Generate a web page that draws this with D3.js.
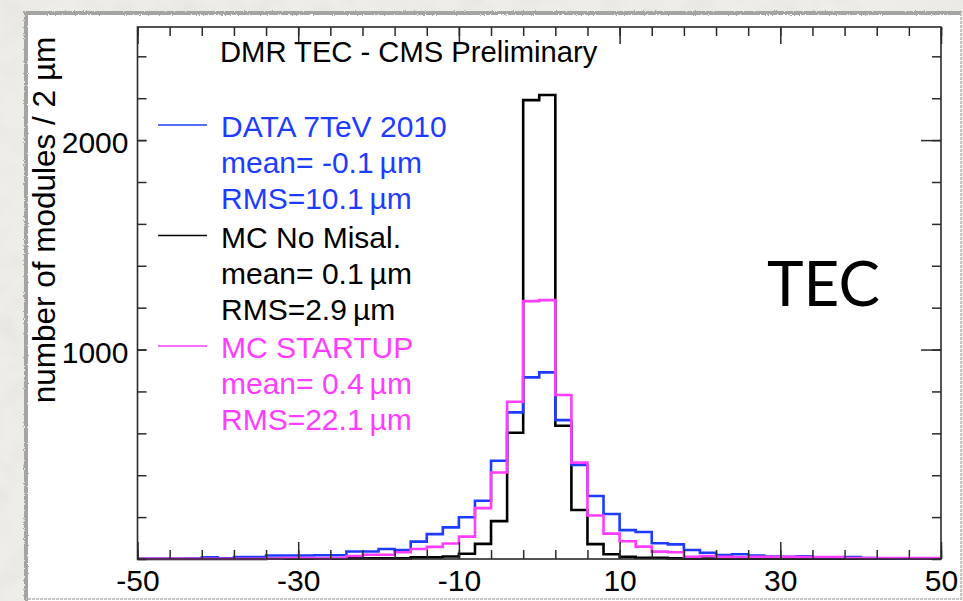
<!DOCTYPE html>
<html>
<head>
<meta charset="utf-8">
<script src="https://cdn.jsdelivr.net/npm/d3@7"></script>
<style>
  body { margin: 0; background: #efede8; }
  text { font-family: "Liberation Sans", Arial, Helvetica, sans-serif; }
</style>
</head>
<body>
<svg id="chart" width="963" height="601"></svg>
<script>
// bins of 2 um from -50 to 50 (lower edges)
var binLow = d3.range(-50, 50, 2);

var dataCounts = [1, 1, 1, 2, 8, 3, 9, 9, 17, 17, 17, 18, 18, 36, 36, 48, 43, 83, 119, 151,
                  199, 278, 469, 700, 867, 891, 663, 449, 301, 215, 138, 129, 75, 70, 43, 30, 19, 23, 17, 12,
                  10, 13, 7, 7, 9, 4, 3, 2, 2, 2];
var noMisalCounts = [0, 0, 0, 0, 0, 0, 0, 0, 1, 1, 1, 1, 1, 3, 3, 3, 3, 8, 8, 12,
                     25, 72, 181, 603, 2191, 2215, 636, 234, 71, 23, 11, 6, 6, 3, 2, 2, 1, 1, 1, 1,
                     1, 1, 1, 1, 1, 1, 1, 1, 1, 1];
var startupCounts = [1, 1, 1, 1, 1, 1, 1, 1, 2, 5, 5, 3, 5, 14, 20, 20, 32, 48, 58, 74,
                     107, 243, 413, 751, 1231, 1236, 783, 460, 208, 121, 85, 59, 35, 32, 11, 14, 10, 8, 10, 10,
                     10, 9, 9, 9, 5, 5, 5, 5, 4, 4];

var xMajor = [-50, -30, -10, 10, 30, 50];
var xMinor = d3.range(-50, 51, 4);
var yMajor = [1000, 2000];
var yMinor = d3.range(0, 2540, 200);

var seriesNames = ["DATA 7TeV 2010", "MC No Misal.", "MC STARTUP"];
var seriesMeans = ["-0.1", "0.1", "0.4"];
var seriesRms = ["10.1", "2.9", "22.1"];
var seriesColors = ["#1e3cff", "#000000", "#ff3cff"];

var svg = d3.select("#chart");

// paper background
var defs = svg.append("defs");
var paper = defs.append("filter").attr("id", "paper").attr("x", 0).attr("y", 0).attr("width", 1).attr("height", 1);
paper.append("feTurbulence").attr("type", "fractalNoise").attr("baseFrequency", 0.035).attr("numOctaves", 3).attr("seed", 4);
paper.append("feColorMatrix").attr("values", "0 0 0 0 0.55  0 0 0 0 0.53  0 0 0 0 0.5  0 0 0 -0.9 0.55");
var rough = defs.append("filter").attr("id", "rough");
rough.append("feTurbulence").attr("type", "fractalNoise").attr("baseFrequency", 0.9).attr("numOctaves", 1).attr("result", "n");
rough.append("feDisplacementMap").attr("in", "SourceGraphic").attr("in2", "n").attr("scale", 3);

svg.append("rect").attr("width", 963).attr("height", 601).attr("fill", "#efede8");
svg.append("rect").attr("width", 963).attr("height", 601).attr("filter", "url(#paper)").attr("opacity", 0.35);

// white page with rough grey edge
svg.append("rect").attr("x", 26).attr("y", 13).attr("width", 936).attr("height", 588)
    .attr("fill", "#ffffff");
svg.append("path")
    .attr("d", "M26,601 L26,13 L962,13")
    .attr("fill", "none").attr("stroke", "#a4a4a4").attr("stroke-width", 4)
    .attr("filter", "url(#rough)");
svg.append("path")
    .attr("d", "M961,13 L961,599 L26,599")
    .attr("fill", "none").attr("stroke", "#c4c4c4").attr("stroke-width", 2)
    .attr("stroke-dasharray", "3,1");

var x = d3.scaleLinear().domain([-50, 50]).range([137.5, 941]);
var y = d3.scaleLinear().domain([0, 2540]).range([559, 27]);

// histograms: black, blue, magenta on top
var line = d3.line()
    .x(function (d) { return x(d[0]); })
    .y(function (d) { return y(d[1]); })
    .curve(d3.curveStepAfter);

function steps(counts) {
    var pts = binLow.map(function (b, i) { return [b, counts[i]]; });
    pts.push([50, counts[counts.length - 1]]);
    return pts;
}

var order = [[noMisalCounts, seriesColors[1]], [dataCounts, seriesColors[0]], [startupCounts, seriesColors[2]]];
order.forEach(function (s) {
    svg.append("path")
        .attr("d", line(steps(s[0])))
        .attr("fill", "none")
        .attr("stroke", s[1])
        .attr("stroke-width", 2.6);
});

// axes, ticks inside on all four sides
var axisColor = "#2a2a2a";
function styleAxis(g) {
    g.select(".domain").remove();
    g.selectAll("line").attr("stroke", axisColor).attr("stroke-width", 1.5);
}
function plain(d) { return String(d); }

svg.append("g").attr("transform", "translate(0,559)")
    .call(d3.axisBottom(x).tickValues(xMinor).tickSize(-9).tickFormat(""))
    .call(styleAxis);
svg.append("g").attr("transform", "translate(0,559)")
    .call(d3.axisBottom(x).tickValues(xMajor).tickSize(-17).tickPadding(11).tickFormat(plain))
    .call(styleAxis)
    .call(function (g) {
        g.selectAll("text").attr("font-size", 30).attr("fill", "#000")
            .style("font-family", "'Liberation Sans', Arial, sans-serif");
    });
svg.append("g").attr("transform", "translate(0,27)")
    .call(d3.axisTop(x).tickValues(xMinor).tickSize(-9).tickFormat(""))
    .call(styleAxis);
svg.append("g").attr("transform", "translate(0,27)")
    .call(d3.axisTop(x).tickValues(xMajor).tickSize(-17).tickFormat(""))
    .call(styleAxis);

svg.append("g").attr("transform", "translate(137.5,0)")
    .call(d3.axisLeft(y).tickValues(yMinor).tickSize(-9).tickFormat(""))
    .call(styleAxis);
svg.append("g").attr("transform", "translate(137.5,0)")
    .call(d3.axisLeft(y).tickValues(yMajor).tickSize(-9).tickPadding(9).tickFormat(plain))
    .call(styleAxis)
    .call(function (g) {
        g.selectAll("text").attr("font-size", 30).attr("fill", "#000").attr("dy", "0.42em")
            .style("font-family", "'Liberation Sans', Arial, sans-serif");
    });
svg.append("g").attr("transform", "translate(941,0)")
    .call(d3.axisRight(y).tickValues(yMinor).tickSize(-9).tickFormat(""))
    .call(styleAxis);
svg.append("g").attr("transform", "translate(941,0)")
    .call(d3.axisRight(y).tickValues(yMajor).tickSize(-20).tickFormat(""))
    .call(styleAxis);

// frame
svg.append("rect")
    .attr("x", x(-50)).attr("y", y(2540))
    .attr("width", x(50) - x(-50)).attr("height", y(0) - y(2540))
    .attr("fill", "none").attr("stroke", axisColor).attr("stroke-width", 1.6);

// axis title
svg.append("text")
    .attr("transform", "translate(55,220) rotate(-90)")
    .attr("text-anchor", "middle")
    .attr("font-size", 31.5)
    .text("number of modules / 2 \u00b5m");

// title
svg.append("text")
    .attr("x", 220).attr("y", 62)
    .attr("font-size", 29.2)
    .text("DMR TEC - CMS Preliminary");

// legend
var legendTop = 137, groupStep = 110.5, rowStep = 36;
seriesNames.forEach(function (name, i) {
    var base = legendTop + i * groupStep;
    var c = seriesColors[i];
    svg.append("line")
        .attr("x1", 158).attr("x2", 207)
        .attr("y1", base - 12).attr("y2", base - 12)
        .attr("stroke", c).attr("stroke-width", 1.7);
    var rows = [name, "mean= " + seriesMeans[i] + "\u2009\u00b5m", "RMS=" + seriesRms[i] + "\u2009\u00b5m"];
    rows.forEach(function (r, j) {
        svg.append("text")
            .attr("x", 221).attr("y", base + j * rowStep)
            .attr("font-size", 30)
            .attr("fill", c)
            .text(r);
    });
});

// big detector label
svg.append("text")
    .attr("x", 767).attr("y", 306)
    .attr("font-size", 62)
    .style("font-family", "Lato, 'Open Sans', sans-serif")
    .text("TEC");
</script>
</body>
</html>
